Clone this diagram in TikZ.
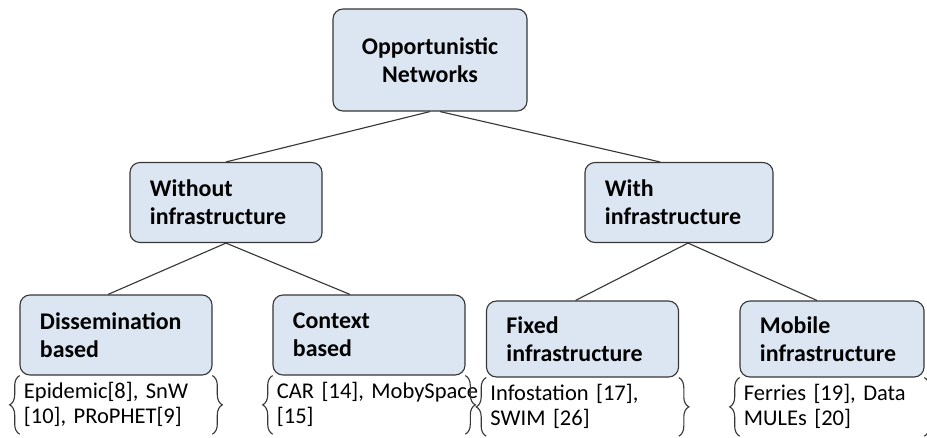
\documentclass[tikz,border=0pt]{standalone}
\usepackage{fontspec}
\setmainfont{Carlito}
\usetikzlibrary{positioning, decorations.pathreplacing}
\definecolor{boxfill}{RGB}{220,230,242}
\definecolor{edgegray}{RGB}{55,55,55}
\tikzset{
catbox/.style={draw=edgegray, line width=0.8pt, fill=boxfill, rounded corners=0.25cm,
  minimum width=4.8cm, minimum height=2cm, inner xsep=0.5cm, text width=3.8cm,
  align=left, font=\fontsize{17}{20}\selectfont\bfseries}, % the category boxes
refs/.style={minimum width=4.8cm, minimum height=1.45cm, inner xsep=0.1cm,
  text width=4.6cm, align=left, font=\fontsize{16}{17.8}\selectfont}, % the reference lists
curly/.style={draw=edgegray, line width=0.8pt, decorate, decoration={brace, amplitude=0.25cm}},
link/.style={draw=edgegray, line width=0.8pt},
}

\begin{document}
\begin{tikzpicture}[x=0.025cm, y=-0.025cm]
    \useasboundingbox (0,0) rectangle (927,437);
    % top levels
    \node[catbox, minimum width=4.85cm, minimum height=2.55cm, text width=3.85cm, align=center] (root) at (430,60) {Opportunistic\\Networks};
    \node[catbox] (without) at (226,202.5) {Without\\infrastructure};
    \node[catbox, minimum width=4.7cm, text width=3.7cm] (with) at (679,202.5) {With\\infrastructure};
    % leaves
    \node[catbox] (diss) at (116,335) {Dissemination\\based};
    \node[catbox] (context) at (369,335) {Context\\based};
    \node[catbox, minimum height=1.9cm] (fixed) at (582.5,339) {Fixed\\infrastructure};
    \node[catbox, minimum height=1.9cm, minimum width=4.6cm, text width=3.6cm] (mobile) at (832,339) {Mobile\\infrastructure};
    % reference lists
    \node[refs, below=0pt of diss] (dissrefs) {Epidemic[8], SnW\\{[10]}, PRoPHET[9]};
    \node[refs, below=0pt of context] (contextrefs) {\mbox{CAR [14], MobySpace}\\{[15]}};
    \node[refs, below=0pt of fixed] (fixedrefs) {Infostation [17],\\SWIM [26]};
    \node[refs, below=0pt of mobile, minimum width=4.6cm, text width=4.4cm] (mobilerefs) {Ferries [19], Data\\MULEs [20]};
    \foreach \r in {dissrefs, contextrefs, fixedrefs, mobilerefs} {
        \draw[curly] (\r.south west) -- (\r.north west);
        \draw[curly] (\r.north east) -- (\r.south east);
    }
    % tree edges
    \draw[link] (root.south) -- (without.north);
    \draw[link] ([xshift=0.25cm]root.south) -- ([xshift=-0.475cm]with.north);
    \draw[link] (without.south) -- ([xshift=-0.2cm]diss.north);
    \draw[link] (without.south) -- ([xshift=-0.475cm]context.north);
    \draw[link] ([xshift=0.225cm]with.south) -- ([xshift=-0.175cm]fixed.north);
    \draw[link] ([xshift=0.225cm]with.south) -- ([xshift=-0.375cm]mobile.north);
\end{tikzpicture}
\end{document}
